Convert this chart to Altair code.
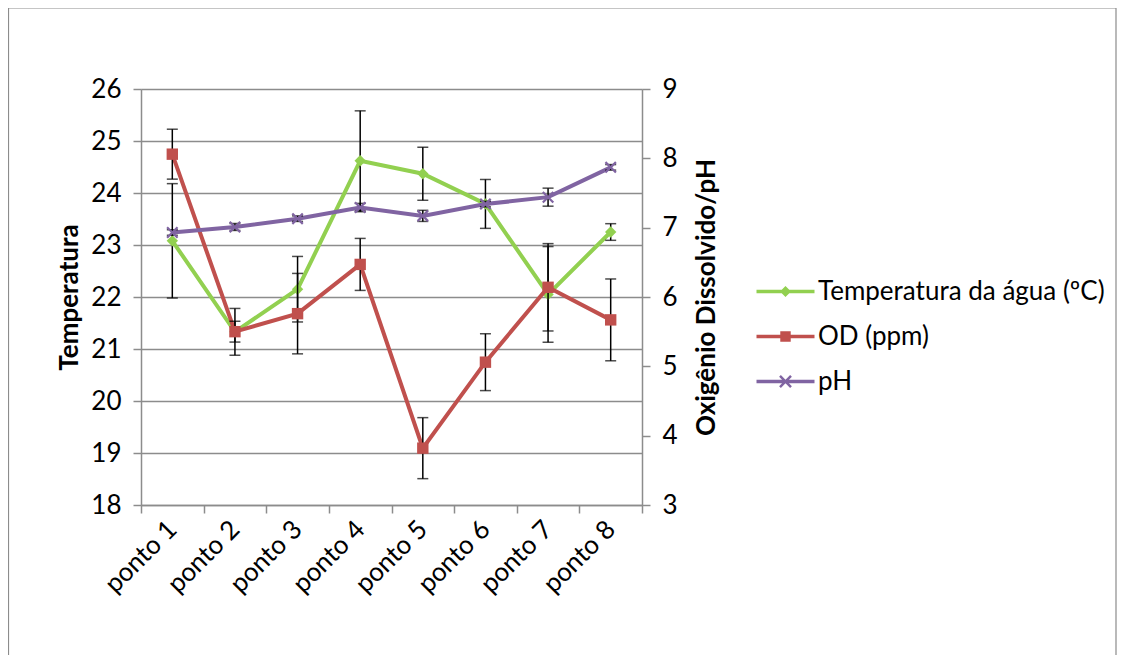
import altair as alt
import pandas as pd

points = ["ponto 1", "ponto 2", "ponto 3", "ponto 4", "ponto 5", "ponto 6", "ponto 7", "ponto 8"]

temp = [23.08, 21.33, 22.15, 24.62, 24.37, 23.79, 22.05, 23.25]
temp_err = [1.10, 0.45, 0.63, 0.96, 0.51, 0.47, 0.92, 0.16]

od = [8.06, 5.50, 5.76, 6.47, 3.82, 5.06, 6.14, 5.67]
od_err = [0.36, 0.15, 0.58, 0.375, 0.44, 0.41, 0.63, 0.59]

ph = [6.93, 7.01, 7.13, 7.29, 7.17, 7.34, 7.44, 7.87]
ph_err = [0.04, 0.05, 0.04, 0.06, 0.08, 0.04, 0.13, 0.04]

series_names = ["Temperatura da água (ºC)", "OD (ppm)", "pH"]
series_colors = ["#92D050", "#C0504D", "#8064A2"]

left_ticks = [18, 19, 20, 21, 22, 23, 24, 25, 26]
right_ticks = [3, 4, 5, 6, 7, 8, 9]

FONT = "Lato"
FS = 26
GRAY = "#8c8c8c"

# legend symbol paths (line with marker), drawn in a [-2,2] box
leg_paths = [
    "M-2,-0.12H2V0.12H-2Z M0,-0.38L0.38,0L0,0.38L-0.38,0Z",
    "M-2,-0.12H2V0.12H-2Z M-0.36,-0.36H0.36V0.36H-0.36Z",
    "M-2,-0.12H2V0.12H-2Z M-0.32,-0.44L0.44,0.32L0.32,0.44L-0.44,-0.32Z M-0.44,0.32L0.32,-0.44L0.44,-0.32L-0.32,0.44Z",
]

rows = []
for name, vals, errs in zip(series_names, [temp, od, ph], [temp_err, od_err, ph_err]):
    for p, v, e in zip(points, vals, errs):
        rows.append({"ponto": p, "serie": name, "valor": v, "low": v - e, "high": v + e})
df = pd.DataFrame(rows)

xscale = alt.Scale(type="band", domain=points, paddingInner=0, paddingOuter=0)
x_axis = alt.Axis(
    title=None, labelAngle=315, labelFont=FONT, labelFontSize=FS, labelColor="black",
    labelAlign="right", labelBaseline="middle", labelPadding=12,
    tickBand="extent", tickSize=8, tickColor=GRAY, tickWidth=1.5,
    domainColor=GRAY, domainWidth=1.5, grid=False,
)
X = alt.X("ponto:N", scale=xscale, axis=x_axis, sort=points)

left_scale = alt.Scale(domain=[18, 26], nice=False, zero=False)
right_scale = alt.Scale(domain=[3, 9], nice=False, zero=False)

left_axis = alt.Axis(
    orient="left", values=left_ticks, title="Temperatura", titleFont=FONT, titleFontSize=FS,
    titleFontWeight="bold", titleColor="black", titlePadding=8,
    labelFont=FONT, labelFontSize=FS, labelColor="black", labelPadding=12,
    tickSize=8, tickColor=GRAY, tickWidth=1.5, domainColor=GRAY, domainWidth=1.5,
    grid=True, gridColor=GRAY, gridWidth=1.5,
)
right_axis = alt.Axis(
    orient="right", values=right_ticks, title="Oxigênio Dissolvido/pH", titleFont=FONT,
    titleFontSize=FS, titleFontWeight="bold", titleColor="black", titlePadding=16,
    titleAngle=270, titleBaseline="top",
    labelFont=FONT, labelFontSize=FS, labelColor="black", labelPadding=12,
    tickSize=8, tickColor=GRAY, tickWidth=1.5, domainColor=GRAY, domainWidth=1.5,
    grid=False,
)

base = alt.Chart(df)


def series_layers(name, color, shape, size, filled, yscale, yaxis):
    d = base.transform_filter(alt.datum.serie == name)
    line = d.mark_line(color=color, strokeWidth=4).encode(
        x=X, y=alt.Y("valor:Q", scale=yscale, axis=yaxis)
    )
    rule = d.mark_rule(color="black", strokeWidth=1.5).encode(
        x=X, y=alt.Y("low:Q", scale=yscale, axis=yaxis), y2="high:Q"
    )
    cap_lo = d.mark_tick(color="black", thickness=1.5, size=11).encode(
        x=X, y=alt.Y("low:Q", scale=yscale, axis=yaxis)
    )
    cap_hi = d.mark_tick(color="black", thickness=1.5, size=11).encode(
        x=X, y=alt.Y("high:Q", scale=yscale, axis=yaxis)
    )
    if filled:
        pts = d.mark_point(shape=shape, size=size, filled=True, color=color, opacity=1)
    else:
        pts = d.mark_point(shape=shape, size=size, filled=False, color=color, strokeWidth=2.2, opacity=1)
    pts = pts.encode(x=X, y=alt.Y("valor:Q", scale=yscale, axis=yaxis))
    return [line, rule, cap_lo, cap_hi, pts]


frame = alt.Chart(pd.DataFrame({"k": [0]})).mark_rect(
    filled=False, stroke=GRAY, strokeWidth=1.2
).encode(
    x=alt.value(-132.5), x2=alt.value(975), y=alt.value(-81), y2=alt.value(620)
)

left = alt.layer(
    frame,
    *series_layers(series_names[0], series_colors[0], "diamond", 130, True, left_scale, left_axis),
)

leg = alt.Legend(
    title=None, orient="none", legendX=630, legendY=188,
    labelFont=FONT, labelFontSize=FS, labelColor="black", labelLimit=500,
    symbolSize=841, labelOffset=18, rowPadding=17, symbolStrokeWidth=0, symbolOpacity=1,
)

legend_layer = base.mark_point(filled=True, opacity=0).encode(
    fill=alt.Fill(
        "serie:N",
        scale=alt.Scale(domain=series_names, range=series_colors),
        sort=series_names,
        legend=leg,
    ),
    shape=alt.Shape(
        "serie:N",
        scale=alt.Scale(domain=series_names, range=leg_paths),
        sort=series_names,
        legend=leg,
    ),
)

right = alt.layer(
    *series_layers(series_names[1], series_colors[1], "square", 130, True, right_scale, right_axis),
    *series_layers(series_names[2], series_colors[2], "M-1,-1L1,1M-1,1L1,-1", 110, False, right_scale, right_axis),
    legend_layer,
)

chart = alt.layer(left, right).resolve_scale(
    y="independent", fill="independent", shape="independent"
).properties(
    width=501, height=416,
    autosize=alt.AutoSizeParams(type="none"),
    padding={"left": 133, "top": 81, "right": 475, "bottom": 150},
).configure_view(stroke=None).configure(background="white")

chart.save("out.html", embed_options={"renderer": "svg", "actions": False})
